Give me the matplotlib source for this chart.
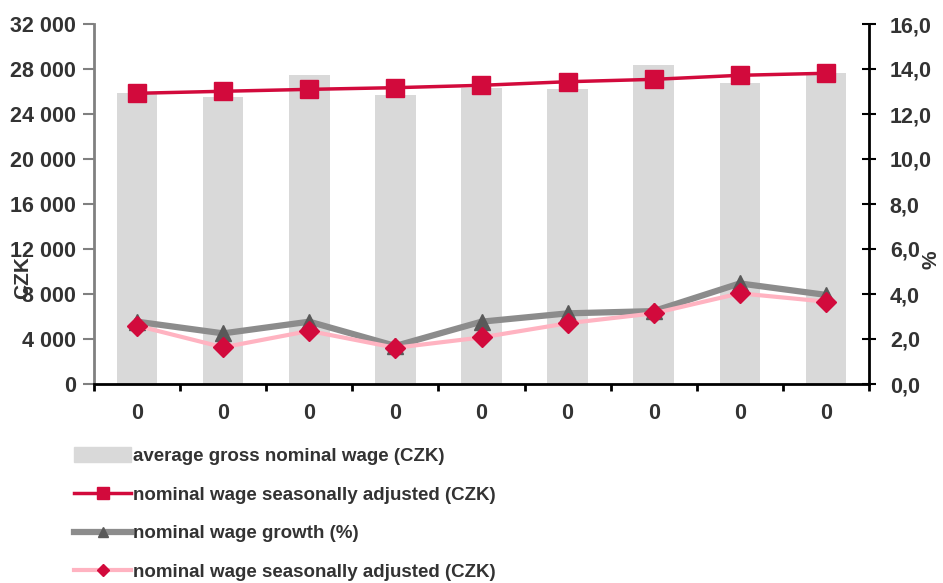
import matplotlib.pyplot as plt
import numpy as np
from matplotlib.patches import Patch
from matplotlib.lines import Line2D

plt.rcParams['font.family'] = ['Liberation Sans', 'DejaVu Sans']

# Data
categories = ['0', '0', '0', '0', '0', '0', '0', '0', '0']
avg_gross_wage = [25900, 25480, 27440, 25690, 26300, 26190, 28330, 26730, 27620]
wage_sa = [25840, 26020, 26190, 26340, 26550, 26870, 27080, 27440, 27620]
wage_growth = [2.77, 2.25, 2.77, 1.69, 2.77, 3.14, 3.24, 4.47, 3.96]
wage_sa_growth = [2.59, 1.63, 2.36, 1.61, 2.07, 2.70, 3.14, 4.03, 3.66]

labels = ['average gross nominal wage (CZK)',
          'nominal wage seasonally adjusted (CZK)',
          'nominal wage growth (%)',
          'nominal wage seasonally adjusted (CZK)']

RED = '#d20a3c'
GREY = '#8c8c8c'
PINK = '#ffb3c1'
BAR = '#d9d9d9'
TXT = '#333333'

fig = plt.figure(figsize=(9.43, 5.83), dpi=100)
ax = fig.add_axes([94 / 943, 1 - 384 / 583, 775 / 943, 360 / 583])
ax2 = ax.twinx()

x = np.arange(len(categories))
ax.bar(x, avg_gross_wage, width=0.47, color=BAR, zorder=1)
ax.plot(x, wage_sa, color=RED, lw=2.5, marker='s', ms=13, mfc=RED, mec=RED, zorder=3)

ax2.plot(x, wage_growth, color=GREY, lw=4.5, marker='^', ms=11, mfc='#595959', mec='#595959', zorder=3)
ax2.plot(x, wage_sa_growth, color=PINK, lw=3, marker='D', ms=10, mfc=RED, mec=RED, zorder=4)

ax.set_xlim(-0.5, len(categories) - 0.5)
ax.set_ylim(0, 32000)
ax2.set_ylim(0, 16)

ax.set_yticks(np.arange(0, 32001, 4000))
ax.set_yticklabels([f'{v:,}'.replace(',', ' ') for v in range(0, 32001, 4000)])
ax2.set_yticks(np.arange(0, 16.1, 2))
ax2.set_yticklabels([f'{v:.1f}'.replace('.', ',') for v in np.arange(0, 16.1, 2)])

# x ticks at category boundaries, labels at centres
ax.set_xticks(np.arange(-0.5, len(categories), 1))
ax.set_xticklabels([])
ax.set_xticks(x, minor=True)
ax.set_xticklabels(categories, minor=True)
ax.tick_params(axis='x', which='major', direction='out', length=5, width=2, color='black')
ax.tick_params(axis='x', which='minor', length=0, pad=14, labelsize=15.5, labelcolor=TXT)
for t in ax.get_xticklabels(minor=True):
    t.set_fontweight('bold')

ax.tick_params(axis='y', direction='out', length=8, width=1.5, color='#808080', labelsize=15.5, labelcolor=TXT, pad=5)
ax2.tick_params(axis='y', direction='inout', length=10, width=1.5, color='black', labelsize=15.5, labelcolor=TXT, pad=10)
for t in ax.get_yticklabels() + ax2.get_yticklabels():
    t.set_fontweight('bold')

for a in (ax, ax2):
    a.spines['top'].set_visible(False)
ax.spines['left'].set_color('#808080')
ax.spines['left'].set_linewidth(2)
ax2.spines['left'].set_visible(False)
ax2.spines['right'].set_color('black')
ax2.spines['right'].set_linewidth(2)
ax.spines['right'].set_visible(False)
ax.spines['bottom'].set_color('black')
ax.spines['bottom'].set_linewidth(2)
ax2.spines['bottom'].set_visible(False)

ax.set_ylabel('CZK', fontsize=15, fontweight='bold', color=TXT)
ax.yaxis.set_label_coords(-0.08, 0.297)
ax2.set_ylabel('%', fontsize=15, fontweight='bold', color=TXT)
ax2.yaxis.set_label_coords(1.068, 0.344)

handles = [
    Patch(facecolor=BAR, edgecolor=BAR),
    Line2D([], [], color=RED, lw=2.5, marker='s', ms=8, mfc=RED, mec=RED),
    Line2D([], [], color=GREY, lw=4.5, marker='^', ms=7, mfc='#595959', mec='#595959'),
    Line2D([], [], color=PINK, lw=3, marker='D', ms=6, mfc=RED, mec=RED),
]
leg = fig.legend(handles, labels, loc='upper left', bbox_to_anchor=(65 / 943, 1 - 438 / 583),
                 frameon=False, fontsize=13.5, handlelength=3.0, handleheight=0.8,
                 handletextpad=0.12, labelspacing=1.12, borderpad=0)
for t in leg.get_texts():
    t.set_fontweight('bold')
    t.set_color(TXT)

fig.savefig('out.png', dpi=100)
